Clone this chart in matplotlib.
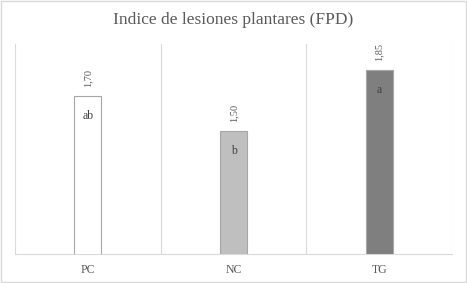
import matplotlib
matplotlib.use('Agg')
import matplotlib.pyplot as plt
from matplotlib.patches import Rectangle

# data
categories = ['PC', 'NC', 'TG']
values = [1.70, 1.50, 1.85]
value_labels = ['1,70', '1,50', '1,85']
letters = ['ab', 'b', 'a']
bar_colors = ['#ffffff', '#bfbfbf', '#7f7f7f']

plt.rcParams['font.family'] = ['Liberation Serif', 'DejaVu Serif']
text_color = '#595959'

fig = plt.figure(figsize=(4.67, 2.83), dpi=100)
ax = fig.add_axes([0.032, 0.1025, 0.936, 0.7425])

x = list(range(len(categories)))
ax.bar(x, values, width=0.185, color=bar_colors, edgecolor='#a6a6a6', linewidth=0.8, zorder=3)

ax.set_xlim(-0.5, 2.5)
ax.set_ylim(0.8, 2.0)

# vertical separators between categories
for xb in [-0.5, 0.5, 1.5, 2.5]:
    ax.axvline(xb, color='#d9d9d9', linewidth=0.8, zorder=1)

# value labels (rotated) and letters
for i, v in enumerate(values):
    ax.annotate(value_labels[i], (i, v), xytext=(0, 6.5), textcoords='offset points',
                rotation=90, ha='center', va='bottom', fontsize=7.5, color=text_color)
    ax.annotate(letters[i], (i, v), xytext=(0, -14), textcoords='offset points',
                ha='center', va='center', fontsize=8.5, color='#404040')

for side in ['top', 'right', 'left']:
    ax.spines[side].set_visible(False)
ax.spines['bottom'].set_color('#d9d9d9')
ax.spines['bottom'].set_linewidth(0.8)
ax.set_yticks([])
ax.set_xticks(x)
ax.set_xticklabels(categories, fontsize=8.5, color=text_color)
ax.tick_params(axis='x', length=0, pad=7)

fig.text(0.5, 0.93, 'Indice de lesiones plantares (FPD)', ha='center', va='center',
         fontsize=12.5, color=text_color)

# light border around the chart
fig.patches.append(Rectangle((0.002, 0.004), 0.996, 0.992, transform=fig.transFigure,
                             fill=False, edgecolor='#d9d9d9', linewidth=1))

fig.savefig('out.png', dpi=100)
